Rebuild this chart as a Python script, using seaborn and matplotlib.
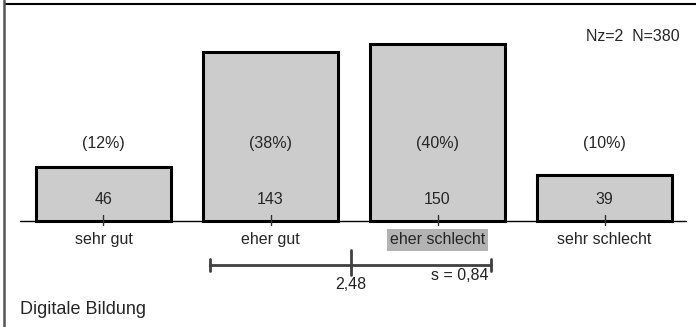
import matplotlib
matplotlib.use("Agg")
import matplotlib.pyplot as plt
import seaborn as sns
import pandas as pd
from matplotlib.lines import Line2D

categories = ["sehr gut", "eher gut", "eher schlecht", "sehr schlecht"]
counts = [46, 143, 150, 39]
percents = ["(12%)", "(38%)", "(40%)", "(10%)"]
mean_value = 2.48
std_value = 0.84
mean_label = "2,48"
std_label = "s = 0,84"
info_label = "Nz=2  N=380"
title = "Digitale Bildung"
highlight = "eher schlecht"

sns.set_theme(style="white")
plt.rcParams["font.family"] = ["Liberation Sans", "DejaVu Sans"]

df = pd.DataFrame({"cat": categories, "n": counts})

fig = plt.figure(figsize=(6.96, 3.27), dpi=100)
ax = fig.add_axes([0, 0, 1, 1])

sns.barplot(data=df, x="cat", y="n", order=categories, color="#cccccc",
            width=0.81, edgecolor="black", linewidth=2.2, saturation=1, ax=ax)

# pixel-matched scales: category step 167 px, 1.18 px per count
ax.set_xlim(-103.5 / 167, (696 - 103.5) / 167)
ax.set_ylim(-106 / 1.18, 221 / 1.18)
ax.axis("off")

ax.plot([-0.5, 3.49], [0, 0], color="black", lw=1.0, zorder=1)

fs = 11.5
for i, (c, n, p) in enumerate(zip(categories, counts, percents)):
    ax.plot([i, i], [-3.5, 5], color="#333333", lw=1.0, zorder=3)
    ax.text(i, 66, p, ha="center", va="center", fontsize=fs)
    ax.text(i, 17.8, str(n), ha="center", va="center", fontsize=fs)
    kw = {}
    if c == highlight:
        kw["bbox"] = dict(boxstyle="square,pad=0.2", fc="#b3b3b3", ec="none")
    ax.text(i, -16.1, c, ha="center", va="center", fontsize=fs, **kw)

# mean and standard deviation bar
lo = mean_value - std_value - 1
hi = mean_value + std_value - 1
m = mean_value - 1
ybar = -37.3
gray = "#404040"
ax.plot([lo, hi], [ybar, ybar], color=gray, lw=2)
for xv in (lo, hi):
    ax.plot([xv, xv], [ybar - 5.1, ybar + 5.1], color=gray, lw=2)
ax.plot([m, m], [ybar - 8.5, ybar + 12.7], color=gray, lw=2)
ax.text(m, -54, mean_label, ha="center", va="center", fontsize=fs, color="#222222")
ax.text(hi - 0.015, -46.6, std_label, ha="right", va="center", fontsize=fs, color="#222222")

ax.text(3.45, 156, info_label, ha="right", va="center", fontsize=fs)
fig.text(20 / 696, 1 - 310 / 327, title, ha="left", va="center", fontsize=13)

# frame lines
fig.add_artist(Line2D([5 / 696, 1], [1 - 4 / 327] * 2, color="black", lw=1.5,
                      transform=fig.transFigure))
fig.add_artist(Line2D([4 / 696] * 2, [0, 1], color="#555555", lw=1.8,
                      transform=fig.transFigure))

fig.savefig("out.png", dpi=100)
